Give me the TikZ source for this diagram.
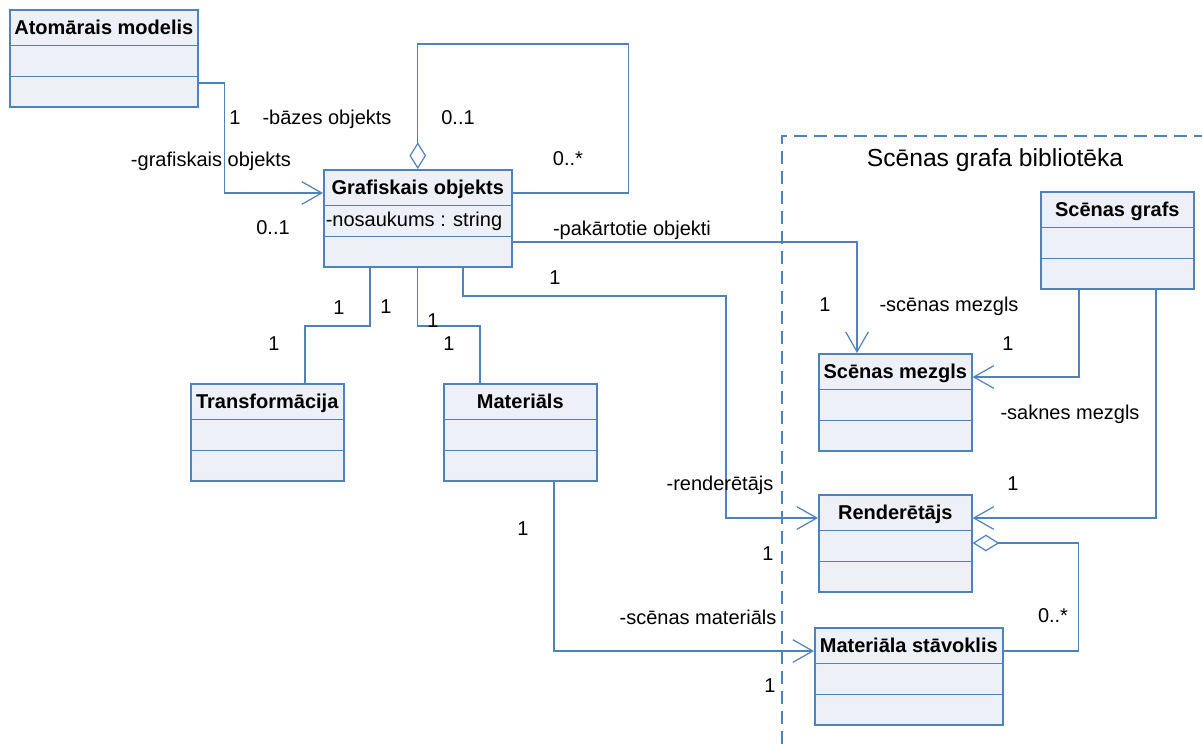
\documentclass[tikz,border=0pt]{standalone}
\usepackage{fontspec}
\setmainfont{Liberation Sans}
\usetikzlibrary{arrows.meta,shapes.multipart,calc}
\definecolor{umlblue}{RGB}{79,129,189}
\definecolor{umlfill}{RGB}{237,240,246}
\newcommand{\hstrut}{\rule[-7.6pt]{0pt}{25.5pt}}
\newcommand{\cstrut}{\rule[-7pt]{0pt}{22pt}}
\newcommand{\clsbody}[2]{\hstrut\textbf{#1}\nodepart{two}\cstrut#2\nodepart{three}\cstrut}
\tikzset{
        umlnode/.style = {rectangle split, rectangle split parts=3,
            rectangle split part align={center,left,left},
            draw=umlblue, fill=umlfill, line width=1.2pt,
            inner xsep=1.5pt, inner ysep=0pt, anchor=north west,
            font=\fontsize{15}{18}\selectfont},
        cls_w/.style = {umlnode, minimum width=141pt},
        cls_n/.style = {umlnode, minimum width=114.75pt},
        lbl/.style = {inner sep=0pt, text height=10.7pt, text depth=0pt,
            font=\fontsize{15}{18}\selectfont},
        link/.style = {draw=umlblue, line width=0.9pt},
        assoc/.style = {link, -{Straight Barb[length=15pt,width=17pt]}},
        aggr/.style = {link, {Diamond[open,length=20pt,width=12.5pt]}-}
    }

\begin{document}
\begin{tikzpicture}[x=0.75pt, y=-0.75pt]
    \useasboundingbox (0,0) rectangle (1202,744);

    % package border
    \draw[umlblue, line width=0.9pt, dash pattern=on 9.75pt off 5.25pt]
        (782,744) -- (782,136) -- (1202,136);
    \node[lbl, font=\fontsize{18.5}{22}\selectfont, text height=13.2pt] (libtitle)
        at (995,158) {Scēnas grafa bibliotēka};

    % classes
    \node[cls_w] (atom)     at (9,9)     {\clsbody{Atomārais modelis}{}};
    \node[cls_w] (graf)     at (323,169) {\clsbody{Grafiskais objekts}{-nosaukums : string}};
    \node[cls_n] (transf)   at (190,383) {\clsbody{Transformācija}{}};
    \node[cls_n] (mat)      at (443,383) {\clsbody{Materiāls}{}};
    \node[cls_n] (scgrafs)  at (1040,191) {\clsbody{Scēnas grafs}{}};
    \node[cls_n] (scmezgls) at (818,353) {\clsbody{Scēnas mezgls}{}};
    \node[cls_n] (render)   at (818,494) {\clsbody{Renderētājs}{}};
    \node[cls_w] (matst)    at (814,627) {\clsbody{Materiāla stāvoklis}{}};

    % associations
    \draw[assoc] ($(atom.north east)+(0,74)$) -- ++(26,0) |- ($(graf.north west)+(0,24)$);
    \draw[aggr] (graf.north) |- ++(211,-125) |- ($(graf.north east)+(0,24)$);
    \draw[assoc] ($(graf.north east)+(0,73)$) -| ($(scmezgls.north west)+(39,0)$);
    \draw[assoc] ($(graf.south west)+(140,0)$) |- ++(263,28) |- ($(render.north west)+(0,24)$);
    \draw[link] ($(graf.south west)+(47,0)$) -- ++(0,58) -| ($(transf.north west)+(115,0)$);
    \draw[link] (graf.south) -- ++(0,58) -| ($(mat.north west)+(37,0)$);
    \draw[assoc] ($(mat.south west)+(111,0)$) |- ($(matst.north west)+(0,24)$);
    \draw[assoc] ($(scgrafs.south west)+(39,0)$) |- ($(scmezgls.north east)+(0,24)$);
    \draw[assoc] ($(scgrafs.south west)+(116,0)$) |- ($(render.north east)+(0,24)$);
    \draw[aggr] ($(render.north east)+(0,49)$) -- ++(106,0) |- ($(matst.north east)+(0,24)$);

    % roles and multiplicities
    \node[lbl] (m_atom)    at (235,117)  {1};
    \node[lbl] (r_bazes)   at (327,117)  {-bāzes objekts};
    \node[lbl] (m_bazes)   at (458,117)  {0..1};
    \node[lbl] (r_grafisk) at (211,159)  {-grafiskais objekts};
    \node[lbl] (m_pakart)  at (568,158)  {0..*};
    \node[lbl] (m_grafisk) at (273,227)  {0..1};
    \node[lbl] (r_pakart)  at (632,228)  {-pakārtotie objekti};
    \node[lbl] (m_grend)   at (555,277)  {1};
    \node[lbl] (m_mezgls)  at (825,304)  {1};
    \node[lbl] (r_mezgls)  at (949,304)  {-scēnas mezgls};
    \node[lbl] (m_grtr)    at (339,307)  {1};
    \node[lbl] (m_grmat)   at (386,306)  {1};
    \node[lbl] (m_mat_a)   at (433,320)  {1};
    \node[lbl] (m_transf)  at (274,343)  {1};
    \node[lbl] (m_mat_b)   at (449,343)  {1};
    \node[lbl] (m_saknes)  at (1008,343) {1};
    \node[lbl] (r_saknes)  at (1070,412) {-saknes mezgls};
    \node[lbl] (m_sgrend)  at (1013,483) {1};
    \node[lbl] (r_render)  at (720,483)  {-renderētājs};
    \node[lbl] (m_render)  at (768,553)  {1};
    \node[lbl] (m_matmat)  at (523,528)  {1};
    \node[lbl] (r_scmat)   at (698,617)  {-scēnas materiāls};
    \node[lbl] (m_stav)    at (1053,615) {0..*};
    \node[lbl] (m_scmat)   at (770,685)  {1};
\end{tikzpicture}
\end{document}
